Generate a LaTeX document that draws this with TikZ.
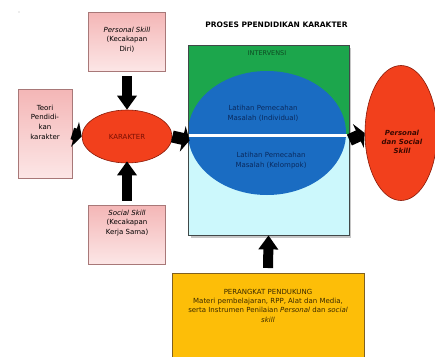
\documentclass[tikz,border=0pt]{standalone}
\usepackage{fontspec}
\setmainfont{DejaVu Sans}
\usetikzlibrary{arrows.meta,shapes.geometric}
\definecolor{pinkT}{HTML}{F4B6B6}
\definecolor{pinkB}{HTML}{FCE6E6}
\definecolor{pinkD}{HTML}{A87878}
\definecolor{redF}{HTML}{F2401C}
\definecolor{redD}{HTML}{8A1A08}
\definecolor{redT}{HTML}{7A1004}
\definecolor{persT}{HTML}{3A0800}
\definecolor{greenF}{HTML}{1CA64C}
\definecolor{greenT}{HTML}{0E4A22}
\definecolor{blueF}{HTML}{1A6CC2}
\definecolor{blueT}{HTML}{0A2A5E}
\definecolor{cyanF}{HTML}{CCF8FC}
\definecolor{rectD}{HTML}{404848}
\definecolor{yellowF}{HTML}{FDBE08}
\definecolor{yellowD}{HTML}{806020}
\definecolor{yellowT}{HTML}{3A2A00}
\tikzset{
  pinkbox/.style={draw=pinkD, line width=0.6pt, top color=pinkT, bottom color=pinkB,
    inner sep=0pt, minimum width=77pt, minimum height=59pt},
  txt/.style={font=\fontsize{7}{9.6}\selectfont, align=center, inner sep=0pt},
  redell/.style={ellipse, draw=redD, line width=0.6pt, fill=redF, inner sep=0pt},
  arrV/.style={line width=10pt, -{Triangle[width=19pt,length=14pt]}},
  arrH/.style={line width=12pt, -{Triangle[width=26pt,length=7pt]}},
}
\begin{document}
\begin{tikzpicture}[x=1pt,y=-1pt]
\clip (0,0) rectangle (435,356);
\fill[white] (0,0) rectangle (435,356);
\fill[gray!60] (19,12) circle (0.7pt);

% left boxes
\node[pinkbox] (pbox) at (127,41.5) {};
\node[txt] (pboxT) at (127,39.5) {\textit{Personal Skill}\\(Kecakapan\\Diri)};
\node[pinkbox, minimum width=54pt, minimum height=89pt] (teori) at (45,133.5) {};
\node[txt] (teoriT) at (45,122) {Teori\\Pendidi-\\kan\\karakter};
\node[pinkbox] (sbox) at (127,234.5) {};
\node[txt] (sboxT) at (127,223) {\textit{Social Skill}\\(Kecakapan\\Kerja Sama)};

\node[redell, minimum width=90pt, minimum height=53pt, font=\fontsize{7}{9}\selectfont, text=redT] (kar) at (127,136.5) {KARAKTER};

% title
\node[font=\bfseries\fontsize{7.5}{9}\selectfont, inner sep=0pt] (title) at (276.5,25) {PROSES PPENDIDIKAN KARAKTER};

% intervention box
\fill[gray!45] (190.5,47.5) rectangle (351,237.5);
\fill[greenF] (188,45) rectangle (349,135);
\fill[cyanF] (188,135) rectangle (349,235);
\begin{scope}
  \clip (188,45) rectangle (349,235);
  \fill[blueF] (267,133) ellipse [x radius=79pt, y radius=62pt];
\end{scope}
\draw[white, line width=3pt] (188,135.5) -- (349,135.5);
\node[draw=rectD, line width=0.8pt, minimum width=161pt, minimum height=190pt, inner sep=0pt] (proc) at (268.5,140) {};
\node[txt, text=greenT, font=\fontsize{6.5}{9}\selectfont] (interv) at (267,53) {INTERVENSI};
\node[txt, text=blueT] (ind) at (263,113) {Latihan Pemecahan\\Masalah (Individual)};
\node[txt, text=blueT] (kel) at (271,160.5) {Latihan Pemecahan\\Masalah (Kelompok)};

% result ellipse
\node[redell, minimum width=72pt, minimum height=135pt] (pers) at (401,133) {};
\node[txt, text=persT, font=\bfseries\itshape\fontsize{7}{8.8}\selectfont] (persT) at (402,142) {Personal\\dan Social\\Skill};

% support box
\node[draw=yellowD, line width=0.6pt, fill=yellowF, minimum width=192pt, minimum height=100pt, inner sep=0pt, anchor=north] (yel) at (268,273) {};
\node[txt, text=yellowT, font=\fontsize{7}{9.3}\selectfont] (yelT) at (268,305.5) {PERANGKAT PENDUKUNG\\Materi pembelajaran, RPP, Alat dan Media,\\serta Instrumen Penilaian \textit{Personal} dan \textit{social}\\\textit{skill}};

% arrows
\draw[arrV, shorten <=5pt] (pbox.south) -- (kar.north);
\draw[arrV, shorten <=4pt, shorten >=-2pt] (sbox.north) -- (kar.south);
\draw[arrH] (teori.east) -- (kar.west);
\draw[arrH, shorten >=-2pt] (kar.east) -- (proc.west);
\draw[arrH] (proc.east) -- (pers.west);
\draw[arrV, shorten <=5pt] (yel.north) -- (proc.south);
\end{tikzpicture}
\end{document}
